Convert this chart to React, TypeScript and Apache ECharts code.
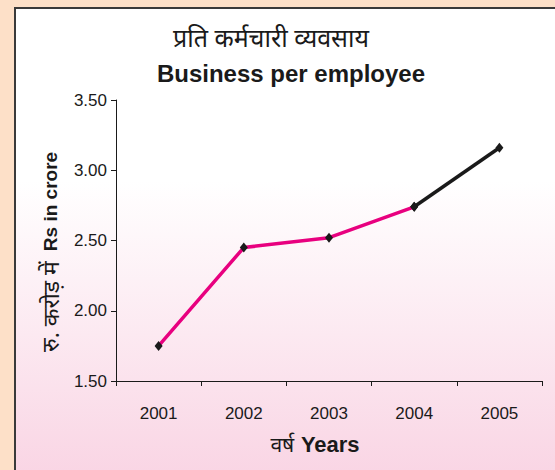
import React, { useEffect, useRef } from "react";
import * as echarts from "echarts";

const years = ["2001", "2002", "2003", "2004", "2005"];
const magentaValues: (number | string)[] = [1.75, 2.45, 2.52, 2.74, "-"];
const blackValues: (number | string)[] = ["-", "-", "-", 2.74, 3.16];
const titleHindi = "प्रति कर्मचारी व्यवसाय";
const titleEnglish = "Business per employee";
const yNameHindi = "रु. करोड़ में";
const yNameEnglish = "Rs in crore";
const xNameHindi = "वर्ष";
const xNameEnglish = "Years";

const NARROW = '"Liberation Sans Narrow", "Arial Narrow", "Liberation Sans", sans-serif';
const SANS = '"Liberation Sans", Arial, sans-serif';

export default function App() {
  const ref = useRef<HTMLDivElement>(null);
  useEffect(() => {
    if (!ref.current) return;
    const chart = echarts.init(ref.current, null, { renderer: "svg" });
    chart.setOption({
      animation: false,
      backgroundColor: "#fde0c8",
      graphic: [
        {
          type: "rect",
          z: -10,
          shape: { x: 15, y: 8, width: 560, height: 480 },
          style: {
            fill: new echarts.graphic.LinearGradient(0, 0, 0, 1, [
              { offset: 0, color: "#ffffff" },
              { offset: 0.36, color: "#ffffff" },
              { offset: 1, color: "#f9d3e3" },
            ]),
            stroke: "#3a3a3a",
            lineWidth: 2,
          },
        },
        {
          type: "text",
          x: 271,
          y: 37,
          style: {
            text: titleHindi,
            font: '25px "Noto Sans", sans-serif',
            fill: "#1a1a1a",
            align: "center",
            verticalAlign: "middle",
          },
        },
        {
          type: "text",
          x: 291,
          y: 73,
          style: {
            text: titleEnglish,
            font: "bold 24px " + SANS,
            fill: "#1a1a1a",
            align: "center",
            verticalAlign: "middle",
          },
        },
        {
          type: "text",
          x: 50,
          y: 252,
          rotation: Math.PI / 2,
          style: {
            text: "{h|" + yNameHindi + "}   {e|" + yNameEnglish + "}",
            align: "center",
            verticalAlign: "middle",
            rich: {
              h: { font: '23px "Noto Sans", sans-serif', fill: "#1a1a1a" },
              e: { font: "bold 19px " + SANS, fill: "#1a1a1a" },
            },
          },
        },
        {
          type: "text",
          x: 315,
          y: 444,
          style: {
            text: "{h|" + xNameHindi + "}  {e|" + xNameEnglish + "}",
            align: "center",
            verticalAlign: "middle",
            rich: {
              h: { font: '21px "Noto Sans", sans-serif', fill: "#1a1a1a" },
              e: { font: "bold 22px " + SANS, fill: "#1a1a1a" },
            },
          },
        },
      ],
      grid: { left: 116, right: 13, top: 100, bottom: 89 },
      xAxis: {
        type: "category",
        data: years,
        boundaryGap: true,
        axisLine: { lineStyle: { color: "#1a1a1a", width: 1 } },
        axisTick: { show: true, length: 5, lineStyle: { color: "#1a1a1a" } },
        axisLabel: { color: "#1a1a1a", fontSize: 17, fontFamily: NARROW, margin: 24 },
        splitLine: { show: false },
      },
      yAxis: {
        type: "value",
        min: 1.5,
        max: 3.5,
        interval: 0.5,
        axisLine: { show: true, lineStyle: { color: "#1a1a1a", width: 1 } },
        axisTick: { show: true, length: 5, lineStyle: { color: "#1a1a1a" } },
        axisLabel: {
          color: "#1a1a1a",
          fontSize: 17,
          fontFamily: NARROW,
          margin: 9,
          formatter: (v: number) => v.toFixed(2),
        },
        splitLine: { show: false },
      },
      series: [
        {
          type: "line",
          data: magentaValues,
          lineStyle: { color: "#e8007f", width: 3.5 },
          itemStyle: { color: "#1a1a1a" },
          symbol: "diamond",
          symbolSize: [8, 10],
          showSymbol: true,
          z: 2,
        },
        {
          type: "line",
          data: blackValues,
          lineStyle: { color: "#1a1a1a", width: 3.5 },
          itemStyle: { color: "#1a1a1a" },
          symbol: "diamond",
          symbolSize: [8, 10],
          z: 3,
        },
      ],
    });
    return () => chart.dispose();
  }, []);
  return (
    <div
      ref={ref}
      style={{ position: "fixed", left: 0, top: 0, width: 555, height: 470 }}
    />
  );
}
